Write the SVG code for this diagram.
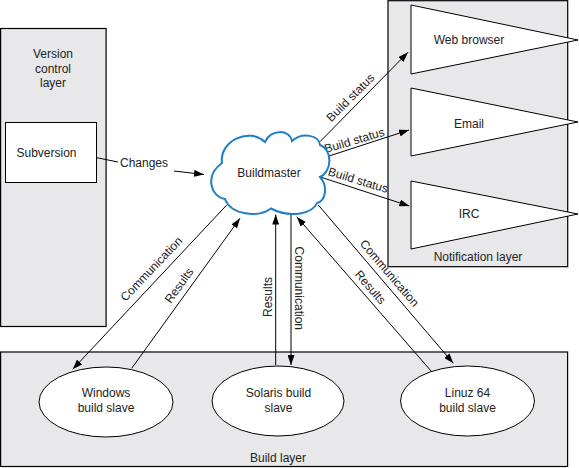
<svg xmlns="http://www.w3.org/2000/svg" width="579" height="468" viewBox="0 0 579 468">
<style>
text{font-family:"Liberation Sans",Arial,sans-serif;font-size:12px;fill:#222;text-anchor:middle}
.layer{fill:#e8e8ea;stroke:#000;stroke-width:1.2}
.node{fill:#fff;stroke:#000;stroke-width:1}
.cl{fill:none;stroke:#000;stroke-width:1}
.cloud{fill:#fff;stroke:#1f7fc6;stroke-width:2}
</style>
<defs>
<marker id="ah" viewBox="0 0 10 7" refX="10" refY="3.5" markerWidth="10" markerHeight="7" markerUnits="userSpaceOnUse" orient="auto">
<path d="M0,0 L10,3.5 L0,7 Z" fill="#000"/>
</marker>
</defs>
<g id="version-layer">
<rect class="layer" x="0.6" y="28.5" width="105.5" height="298"/>
<text x="53" y="58">Version</text>
<text x="53" y="72.5">control</text>
<text x="53" y="87">layer</text>
</g>
<g id="notification-layer">
<rect class="layer" x="388" y="0.7" width="179.7" height="266"/>
<text x="478" y="261">Notification layer</text>
</g>
<g id="build-layer">
<rect class="layer" x="0.6" y="352" width="567" height="114.5"/>
<text x="278" y="462">Build layer</text>
</g>
<g id="subversion">
<rect class="node" x="5.5" y="122.5" width="91" height="60"/>
<text x="46.5" y="157">Subversion</text>
</g>
<g id="web-browser">
<polygon class="node" points="411,5 578,40 411,74"/>
<text x="469" y="44">Web browser</text>
</g>
<g id="email">
<polygon class="node" points="411,88 578,122 411,156"/>
<text x="469" y="127.5">Email</text>
</g>
<g id="irc">
<polygon class="node" points="411,181 578,214 411,249"/>
<text x="469" y="217.5">IRC</text>
</g>
<g id="windows">
<ellipse class="node" cx="106" cy="402" rx="67" ry="35"/>
<text x="106" y="397">Windows</text>
<text x="106" y="412">build slave</text>
</g>
<g id="solaris">
<ellipse class="node" cx="278" cy="401" rx="66" ry="35"/>
<text x="278.5" y="397">Solaris build</text>
<text x="278.5" y="412">slave</text>
</g>
<g id="linux">
<ellipse class="node" cx="467.5" cy="401" rx="67" ry="35"/>
<text x="467.5" y="397">Linuz 64</text>
<text x="467.5" y="412">build slave</text>
</g>
<g id="connectors">
<line class="cl" x1="96.7" y1="157.7" x2="118" y2="162"/>
<text x="144" y="166.5">Changes</text>
<line class="cl" x1="174" y1="171" x2="204" y2="174.5" marker-end="url(#ah)"/>
<line class="cl" x1="320" y1="141.7" x2="408" y2="52.3" marker-end="url(#ah)"/>
<text transform="translate(353.3,100.5) rotate(-45)">Build status</text>
<line class="cl" x1="326" y1="157" x2="409" y2="130" marker-end="url(#ah)"/>
<text transform="translate(355.5,144.3) rotate(-16.5)">Build status</text>
<line class="cl" x1="319.3" y1="176.7" x2="409.3" y2="206" marker-end="url(#ah)"/>
<text transform="translate(357,184) rotate(17)">Build status</text>
<line class="cl" x1="226.7" y1="205" x2="72.7" y2="369.3" marker-end="url(#ah)"/>
<text transform="translate(152.5,270) rotate(-46.5)" y="2.5">Communication</text>
<line class="cl" x1="131.7" y1="368.3" x2="240" y2="218.3" marker-end="url(#ah)"/>
<text transform="translate(180.8,286.7) rotate(-54.2)" y="2">Results</text>
<line class="cl" x1="275.7" y1="365" x2="275.7" y2="214.5" marker-end="url(#ah)"/>
<text transform="translate(267.7,297) rotate(-90)" y="4">Results</text>
<line class="cl" x1="291" y1="214" x2="291" y2="365" marker-end="url(#ah)"/>
<text transform="translate(299.3,288.3) rotate(90)" y="4">Communication</text>
<line class="cl" x1="431.7" y1="371.7" x2="296.7" y2="216.7" marker-end="url(#ah)"/>
<text transform="translate(369.2,288.3) rotate(48.9)" y="2.5">Results</text>
<line class="cl" x1="318.3" y1="205" x2="453.3" y2="363.3" marker-end="url(#ah)"/>
<text transform="translate(388.3,274.2) rotate(49.5)" y="2.5">Communication</text>
</g>
<g id="buildmaster">
<path class="cloud" d="M225,199 C211,197 204,176 222,163 C219,141 249,127 265,142 C270,129 290,129 292,141 C302,132 319,135 320,145 C333,150 332,172 320,177 C328,186 326,201 317,203 C313,213 291,219 271,208.5 C258,218 231,215 225,199 Z"/>
<text x="269" y="177">Buildmaster</text>
</g>
</svg>
